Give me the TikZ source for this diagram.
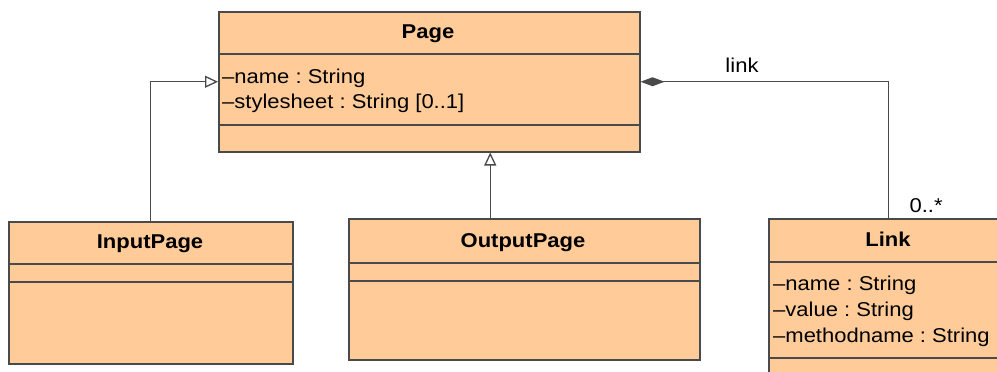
\documentclass[tikz,border=0pt]{standalone}
\usepackage{fontspec}
\setmainfont{Liberation Sans}[FakeStretch=1.1]
\usetikzlibrary{arrows.meta,positioning}
\definecolor{boxfill}{HTML}{FFCC99}
\definecolor{boxline}{HTML}{4A4A4A}
\frenchspacing

\begin{document}
\begin{tikzpicture}[x=1pt,y=-1pt]
	\tikzstyle{every node} = [font=\fontsize{20}{25}\selectfont, text=black]
	\tikzstyle{umlclass} = [draw=boxline, fill=boxfill, line width=1.5pt, rectangle, inner sep=0pt, anchor=north west]
	\tikzstyle{title} = [anchor=base, font=\fontsize{20}{25}\selectfont\bfseries]
	\tikzstyle{attr} = [anchor=base west, inner sep=0pt]
	\tikzstyle{gen} = [draw=boxline, line width=1.3pt, -{Triangle[open, length=13pt, width=12pt, fill=white]}]
	\tikzstyle{comp} = [draw=boxline, line width=1.3pt, -{Diamond[length=24pt, width=9pt, fill=boxline]}]
	\useasboundingbox (0,0) rectangle (997,372);
	\clip (0,0) rectangle (997,372);
	% classes
	\node[umlclass, minimum width=421pt, minimum height=140pt] (page) at (218,11) {};
	\node[umlclass, minimum width=284pt, minimum height=142pt] (input) at (8,221) {};
	\node[umlclass, minimum width=351pt, minimum height=141pt] (output) at (348,218) {};
	\node[umlclass, minimum width=240pt, minimum height=170pt] (link) at (768,218) {};
	% compartments
	\draw[boxline, line width=1.3pt] (218,54) -- (639,54) (218,125) -- (639,125);
	\draw[boxline, line width=1.3pt] (8,264) -- (292,264) (8,282) -- (292,282);
	\draw[boxline, line width=1.3pt] (348,263) -- (699,263) (348,281) -- (699,281);
	\draw[boxline, line width=1.3pt] (768,262) -- (1008,262) (768,358) -- (1008,358);
	% texts
	\node[title] (pagename) at (428,38) {Page};
	\node[attr] (pagea) at (222,83) {–name : String};
	\node[attr] (pageb) at (222,108) {–stylesheet : String [0..1]};
	\node[title] (inputname) at (150,248) {InputPage};
	\node[title] (outputname) at (523,247) {OutputPage};
	\node[title] (linkname) at (888,246) {Link};
	\node[attr] (linka) at (773,290) {–name : String};
	\node[attr] (linkb) at (773,316) {–value : String};
	\node[attr] (linkc) at (773,342) {–methodname : String};
	% relations
	\draw[gen] (input.north) |- (page.west);
	\draw[gen] ([xshift=-34pt]output.north) -- ([xshift=-34pt]output.north |- page.south);
	\draw[comp] (link.north) |- (page.east);
	\node[anchor=base] (role) at (742,72) {link};
	\node[anchor=base west] (mult) at (906,212) {0..*};
\end{tikzpicture}
\end{document}
